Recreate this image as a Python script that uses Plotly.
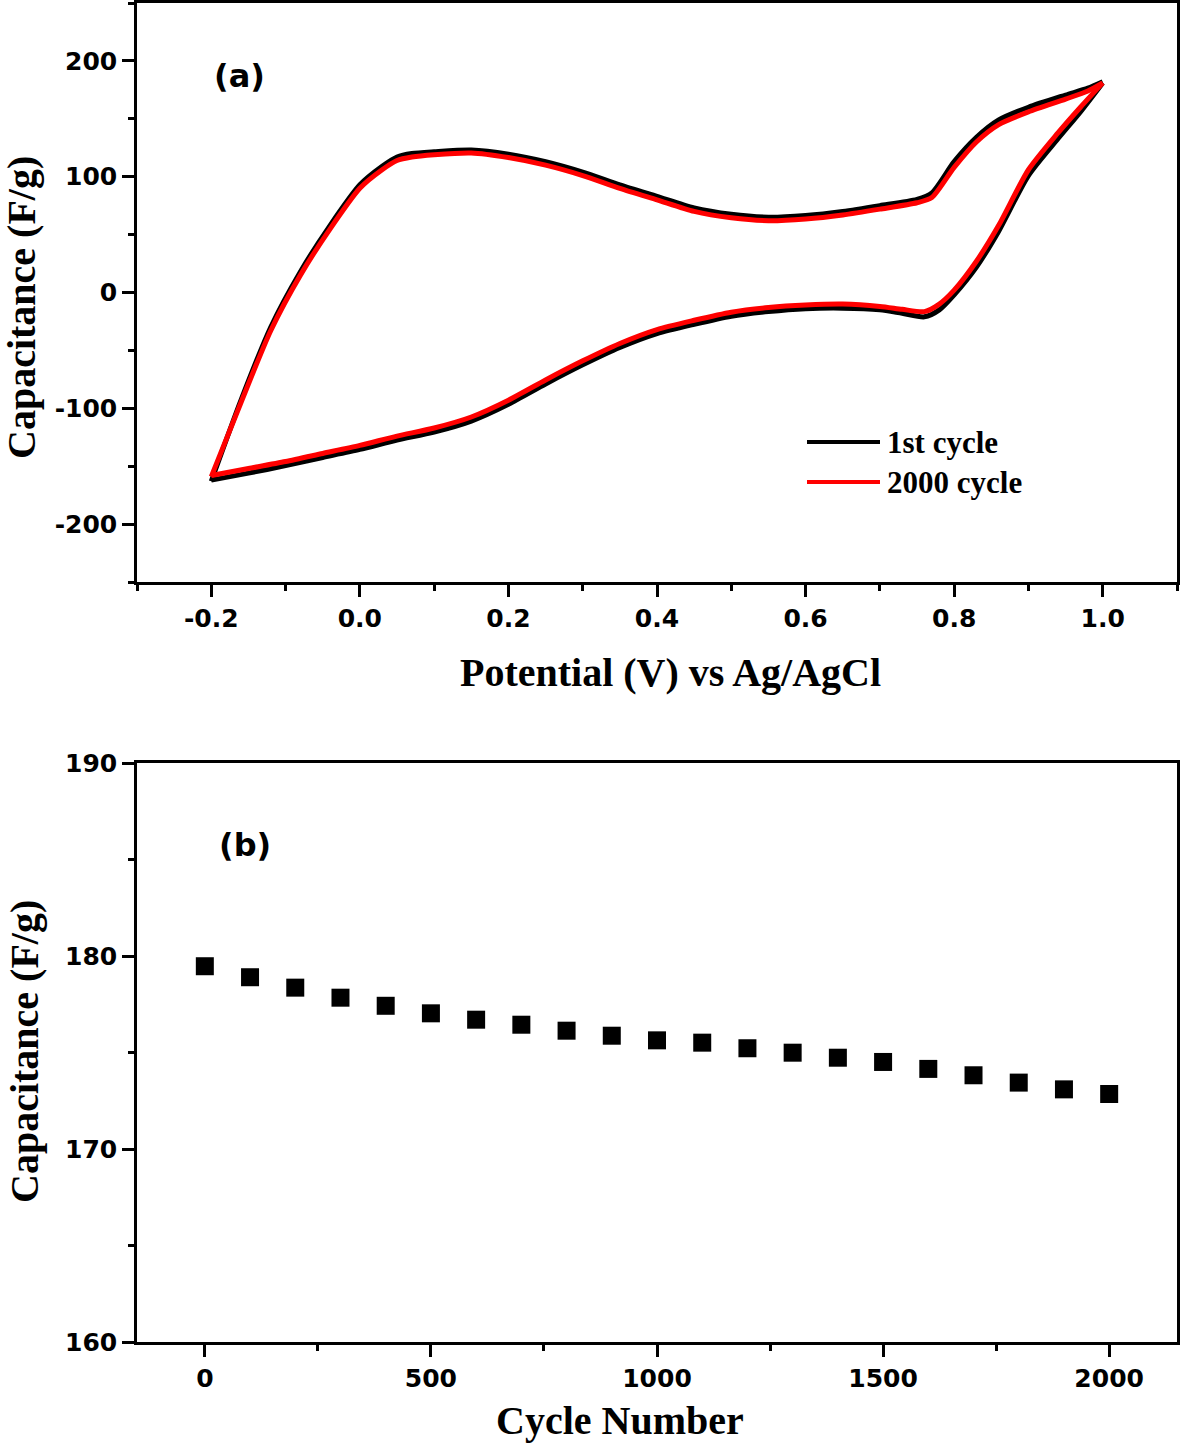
import plotly.graph_objects as go

# (a) CV curves, anodic sweep (-0.2 -> 1.0 V)
pot_fwd = [-0.2, -0.16, -0.12, -0.08, -0.04, 0.0, 0.03, 0.05, 0.07, 0.10, 0.15, 0.20, 0.25,
           0.30, 0.35, 0.40, 0.45, 0.50, 0.55, 0.60, 0.65, 0.70, 0.75, 0.77, 0.80, 0.83,
           0.86, 0.90, 0.95, 0.98, 1.0]
cap_1st_fwd = [-163, -93, -30, 18, 58, 93, 109, 117, 120, 121.5, 123, 119.5, 113,
               104, 93, 83, 73, 67.5, 65, 66.5, 70, 75, 80.5, 86, 113, 134,
               149, 160, 170.5, 176.5, 182]
cap_2000_fwd = [-159, -95, -33, 15, 55, 90, 106, 114, 117, 119, 120.5, 116.5, 110,
                101, 90, 80, 70, 64.5, 62, 63.5, 67, 72, 77.5, 82, 108, 130,
                145, 156, 167, 174, 181]

# (a) CV curves, cathodic sweep (1.0 -> -0.2 V)
pot_rev = [1.0, 0.97, 0.94, 0.90, 0.86, 0.83, 0.80, 0.78, 0.76, 0.73, 0.70, 0.65, 0.60,
           0.55, 0.50, 0.45, 0.40, 0.35, 0.30, 0.25, 0.20, 0.15, 0.10, 0.05, 0.0,
           -0.05, -0.10, -0.15, -0.2]
cap_1st_rev = [181, 156, 133, 101, 53, 22, -2, -15, -21, -18, -15, -13.5, -14,
               -16.5, -20.5, -27.5, -35.5, -47.5, -62.5, -79, -96.5, -111, -120.5, -127.5, -135.5,
               -142.5, -149.5, -156, -162]
cap_2000_rev = [181, 160, 138, 106, 58, 27, 2, -10, -16.5, -14.5, -12, -10, -10.8,
                -13, -17, -24, -32, -44, -59, -75.5, -93, -107.5, -117, -124, -132,
                -139, -146, -152, -158]

# (b) cycling stability
cycle_num = [0, 100, 200, 300, 400, 500, 600, 700, 800, 900, 1000,
             1100, 1200, 1300, 1400, 1500, 1600, 1700, 1800, 1900, 2000]
cap_cycle = [179.47, 178.9, 178.36, 177.84, 177.42, 177.03, 176.7, 176.44, 176.13, 175.87, 175.63,
             175.51, 175.22, 174.99, 174.73, 174.51, 174.15, 173.82, 173.44, 173.09, 172.85]

series_names = ['1st cycle', '2000 cycle']
series_colors = ['#000000', '#ff0000']

xa_ticks = [-0.2, 0.0, 0.2, 0.4, 0.6, 0.8, 1.0]
xa_text = ['-0.2', '0.0', '0.2', '0.4', '0.6', '0.8', '1.0']
ya_ticks = [-200, -100, 0, 100, 200]
ya_text = ['-200', '-100', '0', '100', '200']
xb_ticks = [0, 500, 1000, 1500, 2000]
yb_ticks = [160, 170, 180, 190]

W, H = 1181, 1445
serif = 'Liberation Serif'
sans = 'DejaVu Sans'

fig = go.Figure()

curves = [(cap_1st_fwd, cap_1st_rev), (cap_2000_fwd, cap_2000_rev)]
for (fwd, rev), name, col in zip(curves, series_names, series_colors):
    for px_, py_ in [(pot_fwd, fwd), (pot_rev, rev)]:
        fig.add_trace(go.Scatter(x=px_, y=py_, mode='lines', name=name,
                                 line=dict(color=col, width=5, shape='spline', smoothing=0.7),
                                 xaxis='x', yaxis='y', showlegend=False))

fig.add_trace(go.Scatter(x=cycle_num, y=cap_cycle, mode='markers',
                         marker=dict(symbol='square', size=18, color='black'),
                         xaxis='x2', yaxis='y2', showlegend=False))

def axis(**kw):
    d = dict(showline=True, linecolor='black', linewidth=2.5, mirror=True,
             ticks='outside', ticklen=12, tickwidth=2.5, tickcolor='black',
             showgrid=False, zeroline=False, automargin=False,
             tickfont=dict(family=sans, size=25, color='black', weight='bold'))
    d.update(kw)
    return d

def minor(t0, dt):
    return dict(ticks='outside', ticklen=6, tickwidth=2.5, tickcolor='black',
                tick0=t0, dtick=dt, showgrid=False)

xdom = [137 / W, 1177 / W]
fig.update_layout(
    width=W, height=H,
    margin=dict(l=0, r=0, t=0, b=0, autoexpand=False),
    plot_bgcolor='white', paper_bgcolor='white',
    showlegend=False,
    xaxis=axis(domain=xdom, anchor='y', range=[-0.3, 1.1],
               tickmode='array', tickvals=xa_ticks, ticktext=xa_text,
               minor=minor(-0.3, 0.1)),
    yaxis=axis(domain=[1 - 582 / H, 1 - 3 / H], anchor='x', range=[-250, 250],
               tickmode='array', tickvals=ya_ticks, ticktext=ya_text,
               minor=minor(-250, 50)),
    xaxis2=axis(domain=xdom, anchor='y2', range=[-150, 2150],
                tickmode='array', tickvals=xb_ticks,
                minor=minor(-250, 250)),
    yaxis2=axis(domain=[1 - 1342 / H, 1 - 763 / H], anchor='x2', range=[160, 190],
                tickmode='array', tickvals=yb_ticks,
                minor=minor(160, 5)),
)

# legend drawn by hand (long line samples like the original)
for i, (name, col) in enumerate(zip(series_names, series_colors)):
    yy = 1 - (442 + 40 * i) / H
    fig.add_shape(type='line', xref='paper', yref='paper', x0=807 / W, x1=880 / W,
                  y0=yy, y1=yy, line=dict(color=col, width=4))
    fig.add_annotation(x=885 / W, y=yy, xref='paper', yref='paper', text=name,
                       showarrow=False, xanchor='left', yanchor='middle',
                       font=dict(family=serif, size=31, color='black', weight='bold'))

# panel labels
for txt, x, y in [('(a)', 239, 76), ('(b)', 245, 845)]:
    fig.add_annotation(x=x / W, y=1 - y / H, xref='paper', yref='paper', text=txt,
                       showarrow=False, xanchor='center', yanchor='middle',
                       font=dict(family=sans, size=32, color='black', weight='bold'))

# axis titles
titles = [('Potential (V) vs Ag/AgCl', 670, 672, 0),
          ('Cycle Number', 620, 1420, 0),
          ('Capacitance (F/g)', 22, 308, -90),
          ('Capacitance (F/g)', 24, 1052, -90)]
for txt, x, y, ang in titles:
    fig.add_annotation(x=x / W, y=1 - y / H, xref='paper', yref='paper', text=txt,
                       showarrow=False, xanchor='center', yanchor='middle', textangle=ang,
                       font=dict(family=serif, size=40, color='black', weight='bold'))

# page has a default body margin; drop it so the figure fills the window
fig.write_html('out.html', config={'displayModeBar': False},
               post_script="document.body.style.margin='0';document.body.style.overflow='hidden';")
